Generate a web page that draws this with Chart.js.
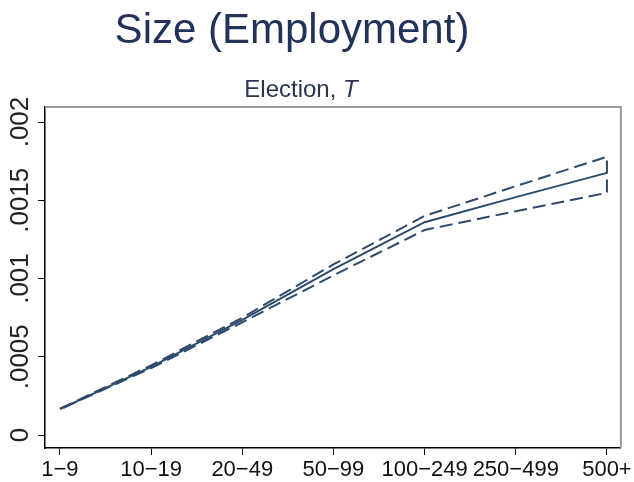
<!DOCTYPE html>
<html>
<head>
<meta charset="utf-8">
<script src="https://cdn.jsdelivr.net/npm/chart.js@4"></script>
<style>
  body { margin: 0; background: #fff; }
</style>
</head>
<body>
<canvas id="chart" width="634" height="482"></canvas>
<script>
// data
const categories = ["1\u22129", "10\u221219", "20\u221249", "50\u221299", "100\u2212249", "250\u2212499", "500+"];
const estimate = [0.000166, 0.000435, 0.000735, 0.00106, 0.00136, 0.00152, 0.001675];
const upperBound = [0.000168, 0.000445, 0.00075, 0.00109, 0.0014, 0.00159, 0.001778];
const lowerBound = [0.000164, 0.000428, 0.00072, 0.00102, 0.00131, 0.00143, 0.001548];
const yTicks = [0, 0.0005, 0.001, 0.0015, 0.002];
const yTickLabels = ["0", ".0005", ".001", ".0015", ".002"];

const lineColor = "#2d4a6c";
const font = "'Liberation Sans', Arial, sans-serif";

// confidence band drawn as one path: upper left->right, then lower right->left
const bandPoints = upperBound
  .map((v, i) => ({ x: i, y: v }))
  .concat(lowerBound.map((v, i) => ({ x: i, y: v })).reverse());

const decorations = {
  id: "decorations",
  afterDraw(chart) {
    const { ctx, chartArea } = chart;
    const yScale = chart.scales.y;
    ctx.save();

    // top and right frame
    ctx.strokeStyle = "#9a9a9a";
    ctx.lineWidth = 2;
    ctx.beginPath();
    ctx.moveTo(chartArea.left, chartArea.top);
    ctx.lineTo(chartArea.right, chartArea.top);
    ctx.lineTo(chartArea.right, chartArea.bottom);
    ctx.stroke();

    // title
    ctx.fillStyle = "#22325a";
    ctx.font = "42px " + font;
    ctx.textAlign = "center";
    ctx.textBaseline = "alphabetic";
    ctx.fillText("Size (Employment)", 292, 43);

    // subtitle, with italic T
    ctx.fillStyle = "#2a3550";
    ctx.font = "24px " + font;
    const part1 = "Election, ";
    const w1 = ctx.measureText(part1).width;
    ctx.font = "italic 24px " + font;
    const w2 = ctx.measureText("T").width;
    let x0 = 301 - (w1 + w2) / 2;
    ctx.textAlign = "left";
    ctx.font = "24px " + font;
    ctx.fillText(part1, x0, 97);
    ctx.font = "italic 24px " + font;
    ctx.fillText("T", x0 + w1, 97);

    // rotated y tick labels
    ctx.fillStyle = "#222";
    ctx.font = "26px " + font;
    ctx.textAlign = "center";
    ctx.textBaseline = "middle";
    yTicks.forEach((v, i) => {
      const py = yScale.getPixelForValue(v);
      ctx.save();
      ctx.translate(21, py);
      ctx.rotate(-Math.PI / 2);
      ctx.fillText(yTickLabels[i], 0, 0);
      ctx.restore();
    });

    ctx.restore();
  },
};

new Chart(document.getElementById("chart"), {
  type: "line",
  data: {
    datasets: [
      {
        label: "Estimate",
        data: estimate.map((v, i) => ({ x: i, y: v })),
        borderColor: lineColor,
        borderWidth: 2,
        pointRadius: 0,
        tension: 0,
        fill: false,
      },
      {
        label: "95% CI",
        data: bandPoints,
        borderColor: lineColor,
        borderWidth: 2,
        borderDash: [13, 6],
        pointRadius: 0,
        tension: 0,
        fill: false,
      },
    ],
  },
  options: {
    responsive: false,
    animation: false,
    layout: { padding: { top: 107, right: 12, left: 0, bottom: 0 } },
    plugins: {
      legend: { display: false },
      tooltip: { enabled: false },
      title: { display: false },
    },
    scales: {
      x: {
        type: "linear",
        min: -0.164,
        max: 6.153,
        afterBuildTicks: (axis) => {
          axis.ticks = categories.map((c, i) => ({ value: i }));
        },
        afterFit: (axis) => {
          axis.height = 34;
        },
        grid: {
          drawOnChartArea: false,
          drawTicks: true,
          tickLength: 7,
          tickColor: "#000",
        },
        border: { display: true, color: "#000", width: 1.5 },
        ticks: {
          autoSkip: false,
          maxRotation: 0,
          padding: 2,
          color: "#111",
          font: { family: font, size: 22 },
          callback: (value) => categories[value],
        },
      },
      y: {
        type: "linear",
        min: -0.000083,
        max: 0.002096,
        afterBuildTicks: (axis) => {
          axis.ticks = yTicks.map((v) => ({ value: v }));
        },
        afterFit: (axis) => {
          axis.width = 45;
        },
        grid: {
          drawOnChartArea: false,
          drawTicks: true,
          tickLength: 7,
          tickColor: "#000",
        },
        border: { display: true, color: "#000", width: 1.5 },
        ticks: { display: false },
      },
    },
  },
  plugins: [decorations],
});
</script>
</body>
</html>
